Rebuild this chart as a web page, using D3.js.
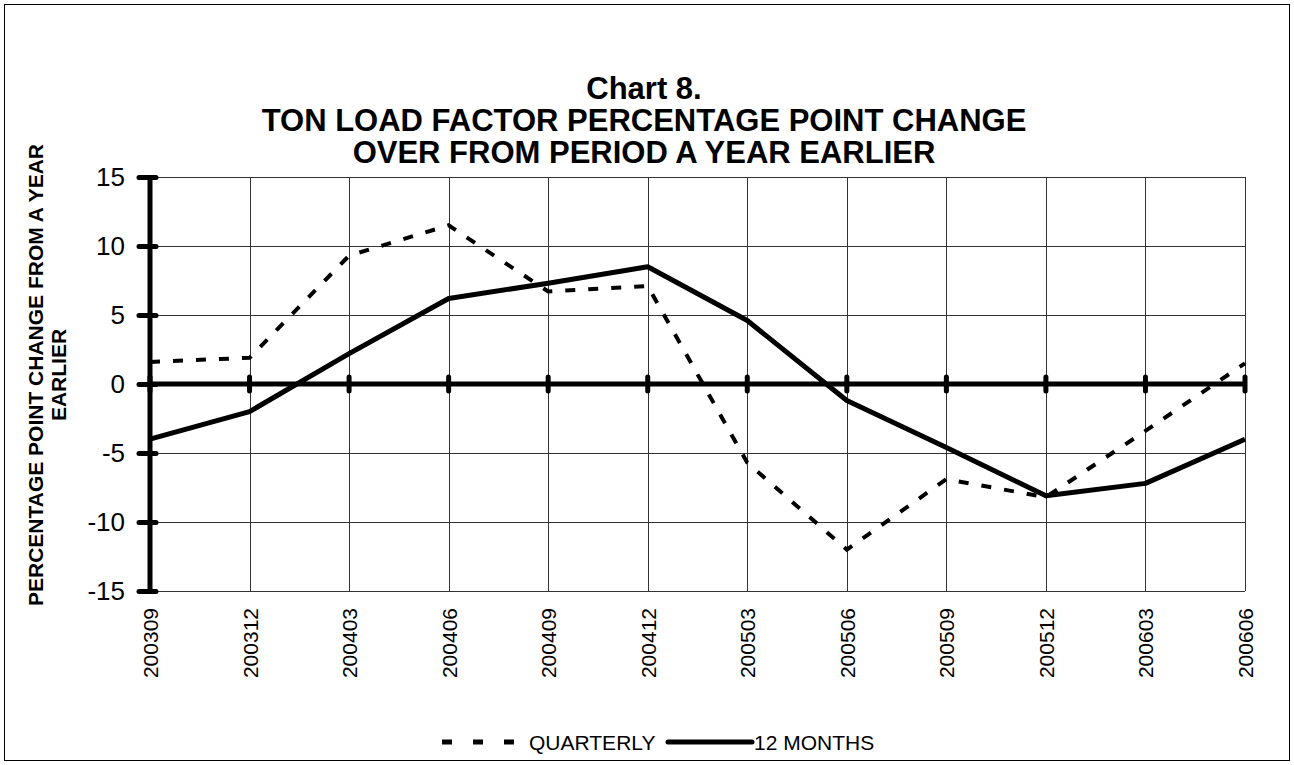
<!DOCTYPE html>
<html>
<head>
<meta charset="utf-8">
<script src="https://cdn.jsdelivr.net/npm/d3@7"></script>
<style>
  body { margin: 0; background: #fff; }
  svg { display: block; font-family: Arial, "Liberation Sans", sans-serif; }
</style>
</head>
<body>
<svg width="1294" height="765"></svg>
<script>
var periods = ['200309', '200312', '200403', '200406', '200409', '200412',
  '200503', '200506', '200509', '200512', '200603', '200606'];
var quarterly = [1.6, 1.9, 9.3, 11.5, 6.7, 7.1, -5.7, -12.0, -6.9, -8.2, -3.4, 1.5];
var twelveMonths = [-4.0, -2.0, 2.2, 6.2, 7.3, 8.5, 4.6, -1.2, -4.6, -8.1, -7.2, -4.0];
var yTicks = [-15, -10, -5, 0, 5, 10, 15];
var titleLines = ['Chart 8.', 'TON LOAD FACTOR PERCENTAGE POINT CHANGE', 'OVER FROM PERIOD A YEAR EARLIER'];

var svg = d3.select('svg'),
  width = +svg.attr('width'),
  height = +svg.attr('height');

var margin = {left: 150, right: 49, top: 177, bottom: 174};

var x = d3.scalePoint()
  .domain(periods)
  .range([margin.left, width - margin.right]);

var y = d3.scaleLinear()
  .domain([-15, 15])
  .range([height - margin.bottom, margin.top]);

// outer frame
svg.append('rect')
  .attr('x', 4.5).attr('y', 4.5)
  .attr('width', width - 9).attr('height', height - 9)
  .attr('fill', 'none')
  .attr('stroke', '#000')
  .attr('stroke-width', 1);

// title
svg.append('g')
  .selectAll('text')
  .data(titleLines)
  .enter().append('text')
  .attr('x', 644)
  .attr('y', function(d, i) { return 99 + i * 32; })
  .attr('text-anchor', 'middle')
  .attr('font-size', 31)
  .attr('font-weight', 'bold')
  .text(function(d) { return d; });

// grid
var grid = svg.append('g');
grid.selectAll('.hgrid')
  .data(yTicks)
  .enter().append('line')
  .attr('x1', x.range()[0]).attr('x2', x.range()[1])
  .attr('y1', function(d) { return Math.round(y(d)) + 0.5; })
  .attr('y2', function(d) { return Math.round(y(d)) + 0.5; })
  .attr('stroke', '#333')
  .attr('stroke-width', 1);
grid.selectAll('.vgrid')
  .data(periods)
  .enter().append('line')
  .attr('x1', function(d) { return Math.round(x(d)) + 0.5; })
  .attr('x2', function(d) { return Math.round(x(d)) + 0.5; })
  .attr('y1', y(15)).attr('y2', y(-15))
  .attr('stroke', '#333')
  .attr('stroke-width', 1);

// y axis
var yAxis = svg.append('g')
  .attr('transform', 'translate(' + x.range()[0] + ',0)')
  .call(d3.axisLeft(y).tickValues(yTicks).tickSize(0).tickPadding(25)
    .tickFormat(function(d) { return String(d); }));
yAxis.select('.domain').remove();
yAxis.append('line')
  .attr('y1', y(15)).attr('y2', y(-15))
  .attr('stroke', '#000').attr('stroke-width', 5);
yAxis.selectAll('.tick').append('line')
  .attr('x1', -11).attr('x2', 6)
  .attr('stroke', '#000').attr('stroke-width', 5)
  .attr('stroke-linecap', 'round');
yAxis.selectAll('.tick text')
  .attr('font-size', 26)
  .attr('font-family', 'Arial, "Liberation Sans", sans-serif')
  .attr('fill', '#000');

// zero line with category ticks
var zero = svg.append('g');
zero.append('line')
  .attr('x1', x.range()[0]).attr('x2', x.range()[1])
  .attr('y1', y(0)).attr('y2', y(0))
  .attr('stroke', '#000').attr('stroke-width', 5);
zero.selectAll('.ztick')
  .data(periods)
  .enter().append('line')
  .attr('x1', function(d) { return x(d); })
  .attr('x2', function(d) { return x(d); })
  .attr('y1', y(0) - 7).attr('y2', y(0) + 7)
  .attr('stroke', '#000').attr('stroke-width', 5)
  .attr('stroke-linecap', 'round');

// x labels
svg.append('g')
  .selectAll('text')
  .data(periods)
  .enter().append('text')
  .attr('transform', function(d) {
    return 'translate(' + (x(d) + 8) + ',' + (y(-15) + 17) + ') rotate(-90)';
  })
  .attr('text-anchor', 'end')
  .attr('font-size', 21)
  .text(function(d) { return d; });

// y axis label
var yLabel = svg.append('text')
  .attr('transform', 'translate(43,375) rotate(-90)')
  .attr('text-anchor', 'middle')
  .attr('font-size', 21)
  .attr('font-weight', 'bold');
yLabel.append('tspan').attr('x', 0).attr('dy', 0).text('PERCENTAGE POINT CHANGE FROM A YEAR');
yLabel.append('tspan').attr('x', 0).attr('dy', 23).text('EARLIER');

// series
var line = d3.line()
  .x(function(d, i) { return x(periods[i]); })
  .y(function(d) { return y(d); });

svg.append('path')
  .datum(quarterly)
  .attr('d', line)
  .attr('fill', 'none')
  .attr('stroke', '#000')
  .attr('stroke-width', 4)
  .attr('stroke-dasharray', '10,13');

svg.append('path')
  .datum(twelveMonths)
  .attr('d', line)
  .attr('fill', 'none')
  .attr('stroke', '#000')
  .attr('stroke-width', 5)
  .attr('stroke-linejoin', 'round');

// legend
var legend = svg.append('g').attr('transform', 'translate(0,742)');
legend.append('line')
  .attr('x1', 442).attr('x2', 515)
  .attr('y1', 0).attr('y2', 0)
  .attr('stroke', '#000').attr('stroke-width', 5)
  .attr('stroke-dasharray', '10,21');
legend.append('text')
  .attr('x', 529).attr('y', 8)
  .attr('font-size', 21)
  .text('QUARTERLY');
legend.append('line')
  .attr('x1', 668).attr('x2', 752)
  .attr('y1', 0).attr('y2', 0)
  .attr('stroke', '#000').attr('stroke-width', 5)
  .attr('stroke-linecap', 'round');
legend.append('text')
  .attr('x', 754).attr('y', 8)
  .attr('font-size', 21)
  .text('12 MONTHS');
</script>
</body>
</html>
